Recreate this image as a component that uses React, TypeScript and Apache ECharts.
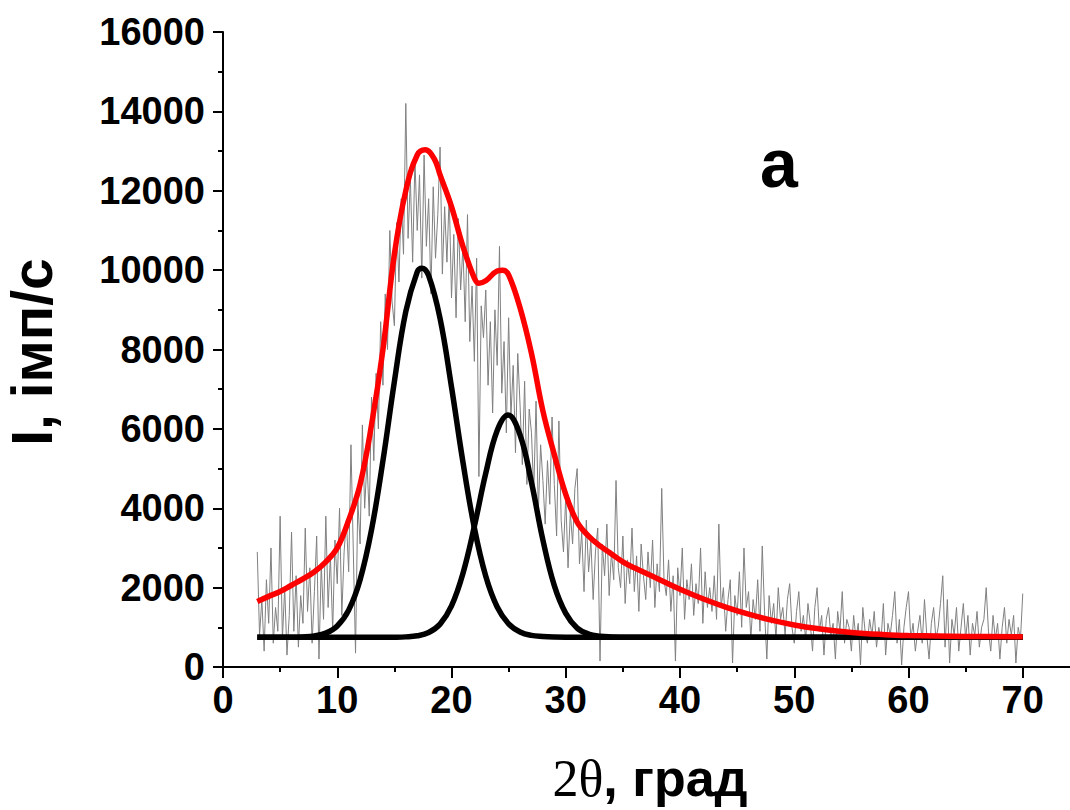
import React, { useEffect, useRef } from "react";
import * as echarts from "echarts";

// ---- data ----
const X_TICKS = [0, 10, 20, 30, 40, 50, 60, 70];
const Y_TICKS = [0, 2000, 4000, 6000, 8000, 10000, 12000, 14000, 16000];

// raw (noisy) pattern, sampled every 0.2 degree from 3.0 to 70.0
const GRAY_X0 = 3;
const GRAY_DX = 0.2;
const GRAY_VALUES = [
  2900, 800, 1700, 400, 2200, 1100, 3000, 600, 1500, 900,
  3800, 700, 2000, 300, 1300, 3400, 900, 2300, 500, 1800,
  1100, 3500, 1400, 2500, 600, 1900, 3300, 200, 2600, 1200,
  3800, 1500, 2800, 900, 3200, 2100, 4000, 1300, 2900, 3700,
  2400, 5600, 3000, 350, 4200, 3100, 6100, 4000, 5200, 3800,
  6800, 5200, 7400, 6000, 8700, 7100, 9400, 8000, 11000, 9200,
  8600, 11200, 9700, 11800, 10400, 14200, 10800, 12300, 10200, 12800,
  11000, 12400, 9800, 12900, 10600, 11800, 9400, 12100, 10300, 11400,
  13100, 9900, 11600, 10200, 11900, 9300, 10900, 8800, 11300, 9500,
  10600, 8700, 11400, 8200, 9600, 7700, 10300, 4800, 9100, 8300,
  9500, 7100, 8700, 6400, 9000, 7600, 10600, 6900, 8200, 5900,
  8800, 6300, 7600, 5400, 7900, 6600, 5100, 7200, 4600, 6500,
  5900, 4400, 6700, 3900, 5600, 4700, 3600, 5200, 4100, 6300,
  4600, 3300, 6200, 3700, 2900, 4300, 2500, 3900, 3100, 4500,
  5000, 2600, 3400, 1900, 3700, 2400, 3200, 1700, 2900, 3500,
  150, 3100, 2300, 3600, 1800, 2900, 2200, 4700, 2500, 2000,
  3300, 1600, 2700, 2100, 3500, 1900, 2800, 1400, 3100, 2300,
  1700, 2900, 2000, 3200, 1500, 2600, 1900, 4500, 2200, 1800,
  2700, 1400, 2300, 150, 2500, 1800, 3000, 1200, 2200, 1700,
  2600, 1300, 2100, 1600, 3000, 1100, 2400, 1500, 2000, 1400,
  2300, 1200, 3600, 1500, 2000, 900, 1700, 2200, 100, 1800,
  1300, 2400, 1000, 3000, 1500, 1900, 700, 1700, 1200, 2200,
  900, 3050, 1400, 200, 1800, 1100, 1600, 700, 2000, 1200,
  1500, 800, 1700, 2100, 1000, 600, 1400, 1900, 900, 1300,
  700, 1600, 1100, 400, 1500, 2000, 900, 1300, 300, 1200,
  1500, 800, 1100, 200, 1400, 900, 1900, 600, 1200, 1000,
  400, 1300, 700, 1100, 50, 1500, 900, 600, 1200, 800,
  1400, 500, 1000, 700, 1600, 300, 1100, 800, 1300, 1900,
  600, 1200, 50, 1000, 1500, 1900, 700, 1100, 400, 900,
  1300, 600, 1700, 800, 200, 1100, 1500, 700, 1000, 1600,
  2300, 500, 1700, 100, 1200, 800, 1500, 400, 1000, 1600,
  700, 1300, 300, 1100, 800, 1400, 500, 1000, 1200, 2000,
  900, 400, 1300, 700, 1100, 200, 1000, 1500, 600, 1200,
  800, 1300, 100, 1000, 700, 1850,
];

// first fitted peak (black)
const PEAK1_X = [3, 6, 7, 8, 9, 10, 11, 12, 13, 14, 15, 16, 17, 17.4, 18, 19, 20, 21, 22, 23, 24, 25, 26, 27, 28, 29, 30, 32, 35, 70];
const PEAK1_Y = [750, 750, 758, 784, 853, 1033, 1433, 2200, 3456, 5198, 7192, 8957, 9956, 10050, 9860, 8780, 7056, 5165, 3506, 2286, 1511, 1087, 883, 796, 770, 757, 752, 750, 750, 750];

// second fitted peak (black)
const PEAK2_X = [3, 12, 14, 15, 16, 17, 18, 19, 20, 21, 22, 23, 24, 24.95, 26, 27, 28, 29, 30, 31, 32, 33, 34, 35, 37, 70];
const PEAK2_Y = [750, 750, 751, 752, 759, 786, 868, 1080, 1539, 2358, 3542, 4883, 5960, 6350, 5850, 4650, 3200, 2050, 1350, 980, 830, 775, 757, 752, 750, 750];

// total fit (red)
const FIT_X = [3, 4, 5, 6, 7, 8, 9, 10, 11, 12, 13, 14, 15, 16, 17, 17.7, 18.5, 19, 20, 21, 22, 22.4, 23, 24, 24.5, 25, 26, 27, 28, 29, 30, 31, 32, 33, 34, 35, 36, 38, 40, 42, 44, 46, 48, 50, 52, 55, 58, 60, 65, 70];
const FIT_Y = [1650, 1780, 1900, 2060, 2220, 2400, 2650, 3000, 3700, 4600, 6100, 8000, 10400, 12000, 12900, 13030, 12800, 12400, 11600, 10600, 9800, 9670, 9730, 9980, 10000, 9880, 9050, 7900, 6450, 5350, 4350, 3650, 3300, 3050, 2850, 2650, 2500, 2230, 1960, 1720, 1510, 1330, 1180, 1060, 970, 870, 815, 795, 770, 760];

const pairs = (xs: number[], ys: number[]) => xs.map((x, i) => [x, ys[i]]);

export default function App() {
  const ref = useRef<HTMLDivElement>(null);

  useEffect(() => {
    if (!ref.current) return;
    const chart = echarts.init(ref.current, null, { renderer: "svg" });

    const grayData = GRAY_VALUES.map((v, i) => [+(GRAY_X0 + i * GRAY_DX).toFixed(1), v]);
    const labelFont = {
      fontSize: 38,
      fontWeight: "bold" as const,
      fontFamily: "Liberation Sans, Arial, sans-serif",
      color: "#000",
    };
    const axisLine = { show: true, lineStyle: { color: "#000", width: 2 } };

    chart.setOption({
      animation: false,
      backgroundColor: "#fff",
      grid: { left: 223, top: 32, right: 2.6, bottom: 143, containLabel: false },
      xAxis: {
        type: "value",
        min: 0,
        max: 80,
        interval: 10,
        axisLine,
        axisTick: { show: true, length: 11, lineStyle: { color: "#000", width: 2 } },
        minorTick: { show: true, splitNumber: 2, length: 5, lineStyle: { color: "#000", width: 2 } },
        splitLine: { show: false },
        minorSplitLine: { show: false },
        axisLabel: {
          ...labelFont,
          margin: 14,
          formatter: (v: number) => (X_TICKS.includes(v) ? String(v) : ""),
        },
      },
      yAxis: {
        type: "value",
        min: 0,
        max: 16000,
        interval: 2000,
        axisLine,
        axisTick: { show: true, length: 10, lineStyle: { color: "#000", width: 2 } },
        minorTick: { show: true, splitNumber: 2, length: 5, lineStyle: { color: "#000", width: 2 } },
        splitLine: { show: false },
        minorSplitLine: { show: false },
        axisLabel: {
          ...labelFont,
          margin: 18,
          formatter: (v: number) => (Y_TICKS.includes(v) ? String(v) : ""),
        },
      },
      series: [
        {
          name: "raw",
          type: "line",
          data: grayData,
          showSymbol: false,
          lineStyle: { color: "#808080", width: 1 },
          z: 1,
        },
        {
          name: "peak1",
          type: "line",
          data: pairs(PEAK1_X, PEAK1_Y),
          showSymbol: false,
          smooth: 0.4,
          lineStyle: { color: "#000", width: 5.5 },
          z: 2,
        },
        {
          name: "peak2",
          type: "line",
          data: pairs(PEAK2_X, PEAK2_Y),
          showSymbol: false,
          smooth: 0.4,
          lineStyle: { color: "#000", width: 5.5 },
          z: 2,
        },
        {
          name: "fit",
          type: "line",
          data: pairs(FIT_X, FIT_Y),
          showSymbol: false,
          smooth: 0.4,
          lineStyle: { color: "#ff0000", width: 5.5 },
          z: 3,
        },
      ],
      graphic: [
        {
          type: "text",
          x: 32,
          y: 352,
          rotation: Math.PI / 2,
          style: {
            text: "I, імп/с",
            fontSize: 57,
            fontWeight: "bold",
            fontFamily: "Liberation Sans, Arial, sans-serif",
            fill: "#000",
            align: "center",
            verticalAlign: "middle",
          },
        },
        {
          type: "text",
          x: 650,
          y: 778,
          style: {
            text: "{s|2θ}{b|, град}",
            align: "center",
            verticalAlign: "middle",
            fill: "#000",
            rich: {
              s: { fontSize: 52, lineHeight: 52, fontFamily: "Liberation Serif, Times New Roman, serif", fontWeight: "normal", fill: "#000" },
              b: { fontSize: 52, lineHeight: 52, fontFamily: "Liberation Sans, Arial, sans-serif", fontWeight: "bold", fill: "#000" },
            },
          },
        },
        {
          type: "text",
          x: 779,
          y: 163,
          style: {
            text: "a",
            fontSize: 68,
            fontWeight: "bold",
            fontFamily: "Liberation Sans, Arial, sans-serif",
            fill: "#000",
            align: "center",
            verticalAlign: "middle",
          },
        },
      ],
    });

    return () => chart.dispose();
  }, []);

  return (
    <div
      style={{ position: "absolute", left: 0, top: 0, width: 1070, height: 810, overflow: "hidden" }}
    >
      <div ref={ref} style={{ width: 1140, height: 810 }} />
    </div>
  );
}
